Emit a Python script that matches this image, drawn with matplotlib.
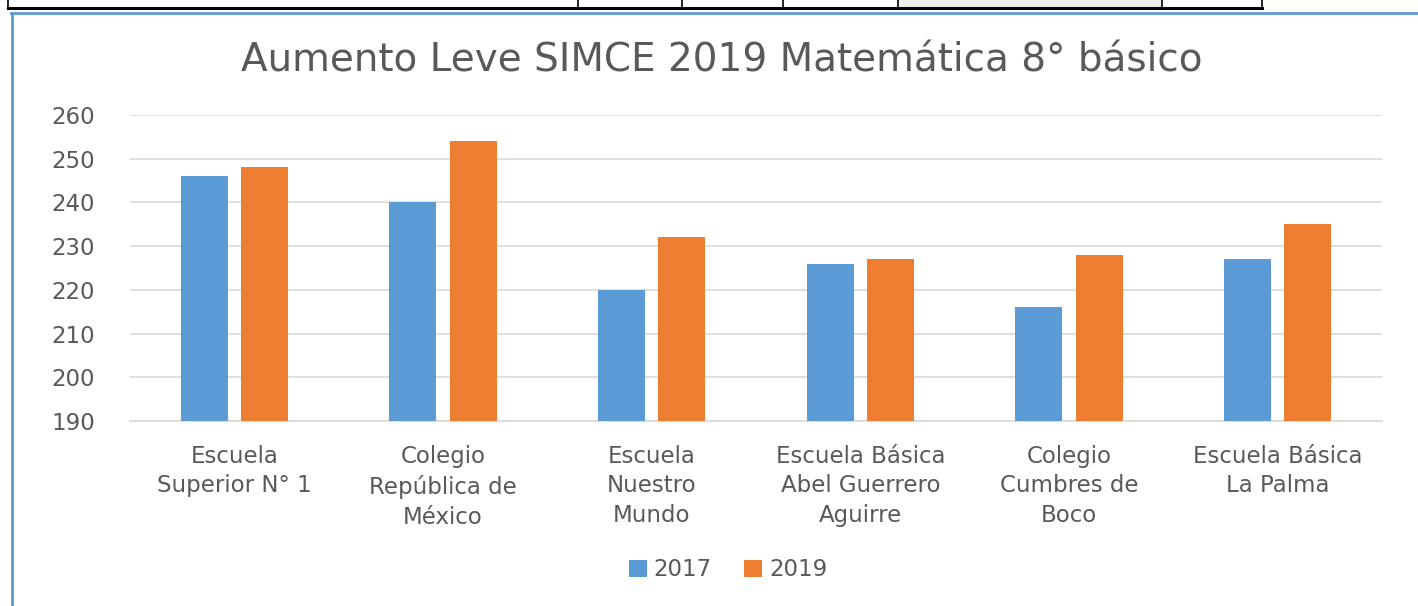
import matplotlib.pyplot as plt
import numpy as np
from matplotlib.lines import Line2D
from matplotlib.patches import Rectangle

plt.rcParams['font.family'] = ['DejaVu Sans']

# Datos
escuelas = [
    "Escuela\nSuperior N° 1",
    "Colegio\nRepública de\nMéxico",
    "Escuela\nNuestro\nMundo",
    "Escuela Básica\nAbel Guerrero\nAguirre",
    "Colegio\nCumbres de\nBoco",
    "Escuela Básica\nLa Palma",
]
anio_1 = "2017"
anio_2 = "2019"
puntaje_2017 = [246, 240, 220, 226, 216, 227]
puntaje_2019 = [248, 254, 232, 227, 228, 235]
ticks_y = [190, 200, 210, 220, 230, 240, 250, 260]

azul = "#5B9BD5"
naranja = "#ED7D31"
gris_texto = "#595959"

fig = plt.figure(figsize=(14.18, 6.06), dpi=100)
W, H = 1418, 606

# Restos de la tabla superior y marco azul del gráfico
def px(x, y):
    return x / W, 1 - y / H

fig.patches.append(Rectangle(px(898, 8), (1162 - 898) / W, 8 / H,
                             transform=fig.transFigure, color="#EFEFEF", zorder=0))
fig.add_artist(Line2D([8 / W, 1262 / W], [1 - 8 / H, 1 - 8 / H], color="black", lw=2.2))
for xv in [8, 578, 682, 783, 898, 1162, 1262]:
    fig.add_artist(Line2D([xv / W, xv / W], [1, 1 - 8 / H], color="black", lw=1.2))
fig.add_artist(Line2D([11 / W, 1], [1 - 12.5 / H, 1 - 12.5 / H], color=azul, lw=2))
fig.add_artist(Line2D([11.5 / W, 11.5 / W], [0, 1 - 12.5 / H], color=azul, lw=2))

ax = fig.add_axes([130 / W, 185 / H, (1382 - 130) / W, (421.5 - 115.5) / H])

x = np.arange(len(escuelas))
ancho = 0.225
desp = 0.144
ax.bar(x - desp, np.array(puntaje_2017) - 190, ancho, bottom=190, color=azul, label=anio_1, zorder=3)
ax.bar(x + desp, np.array(puntaje_2019) - 190, ancho, bottom=190, color=naranja, label=anio_2, zorder=3)

ax.set_xlim(-0.5, len(escuelas) - 0.5)
ax.set_ylim(190, 260)
ax.set_yticks(ticks_y)
ax.set_yticklabels([str(t) for t in ticks_y], fontsize=16.5, color=gris_texto)
ax.set_xticks(x)
ax.set_xticklabels(escuelas, fontsize=16.5, color=gris_texto, linespacing=1.38, va="top")
ax.tick_params(axis="both", length=0)
ax.tick_params(axis="x", pad=17)
ax.tick_params(axis="y", pad=25)
ax.grid(axis="y", color="#D9D9D9", lw=1.2, zorder=0)
for s in ["top", "right", "left"]:
    ax.spines[s].set_visible(False)
ax.spines["bottom"].set_color("#D9D9D9")
ax.spines["bottom"].set_linewidth(1.2)

fig.text(722 / W, 1 - 60 / H, "Aumento Leve SIMCE 2019 Matemática 8° básico",
         ha="center", va="center", fontsize=28, color=gris_texto)

fig.legend(loc="center", bbox_to_anchor=(728 / W, 1 - 570 / H), ncol=2, frameon=False,
           fontsize=16.5, handlelength=0.8, handleheight=0.8, handletextpad=0.3,
           columnspacing=1.4, labelcolor=gris_texto)

fig.savefig("out.png", dpi=100)
